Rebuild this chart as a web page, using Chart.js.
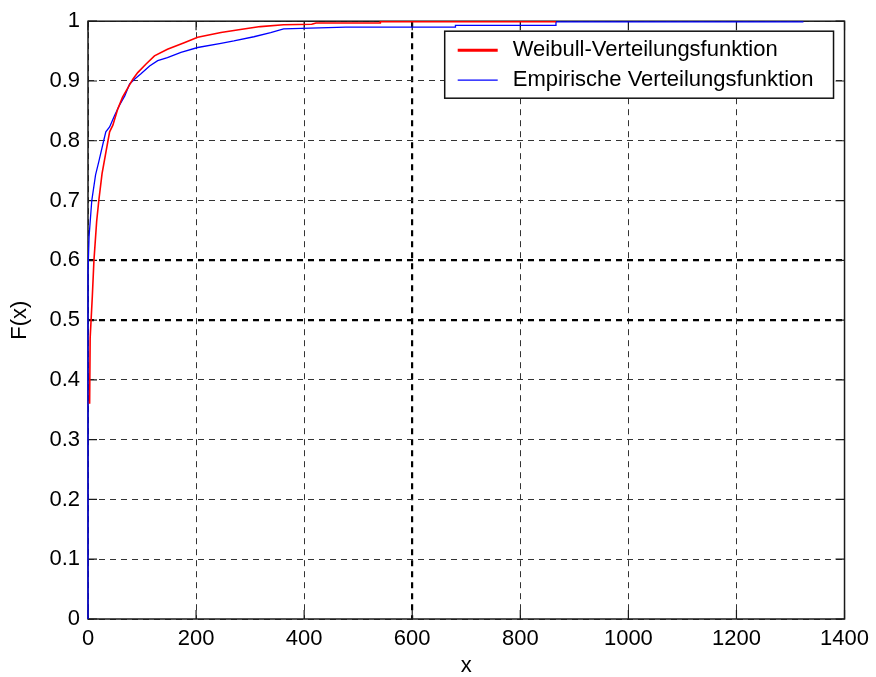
<!DOCTYPE html>
<html>
<head>
<meta charset="utf-8">
<script src="https://cdn.jsdelivr.net/npm/chart.js@4.4.1/dist/chart.umd.min.js"></script>
<style>
  html, body { margin: 0; padding: 0; background: #ffffff; }
  #wrap { width: 876px; height: 677px; }
</style>
</head>
<body>
<div id="wrap"><canvas id="grafico"></canvas></div>
<script>
// Weibull-Verteilungsfunktion
const weibullX = [3, 4, 8, 11, 16, 20, 26, 33, 40, 46, 55, 64, 74, 83, 92, 107, 123, 147, 178, 203, 246, 282, 319, 362, 414, 422, 541, 541, 866];
const weibullF = [0.36, 0.47, 0.54, 0.60, 0.665, 0.70, 0.745, 0.78, 0.815, 0.826, 0.853, 0.873, 0.889, 0.903, 0.914, 0.928, 0.942, 0.953, 0.964, 0.973, 0.981, 0.986, 0.991, 0.994, 0.995, 0.997, 0.997, 0.999, 0.999];

// Empirische Verteilungsfunktion
const empX = [0, 0, 2, 7, 14, 20, 29, 33, 40, 49, 58, 68, 77, 86, 98, 114, 129, 147, 172, 203, 246, 270, 307, 338, 362, 477, 680, 680, 866, 866, 1324];
const empF = [0, 0.58, 0.64, 0.70, 0.743, 0.765, 0.80, 0.815, 0.823, 0.842, 0.859, 0.875, 0.895, 0.903, 0.912, 0.925, 0.934, 0.939, 0.948, 0.956, 0.963, 0.967, 0.974, 0.981, 0.987, 0.99, 0.99, 0.993, 0.993, 0.999, 0.999];

const seriesLabels = ["Weibull-Verteilungsfunktion", "Empirische Verteilungsfunktion"];
const xTicks = [0, 200, 400, 600, 800, 1000, 1200, 1400];
const yTicks = [0, 0.1, 0.2, 0.3, 0.4, 0.5, 0.6, 0.7, 0.8, 0.9, 1];

const schrift = "'Liberation Sans', Arial, sans-serif";

function punkte(xs, ys) {
  return xs.map((x, i) => ({ x: x, y: ys[i] }));
}

// Rahmen mit nach innen zeigenden Ticks (wie MATLAB)
const rahmenPlugin = {
  id: "rahmen",
  beforeDatasetsDraw(chart) {
    const { ctx, chartArea: a, scales } = chart;
    const len = 9;
    ctx.save();
    ctx.strokeStyle = "#1a1a1a";
    ctx.lineWidth = 1.5;
    ctx.strokeRect(a.left, a.top, a.right - a.left, a.bottom - a.top);
    ctx.lineWidth = 1.2;
    ctx.beginPath();
    xTicks.forEach((v) => {
      const px = scales.x.getPixelForValue(v);
      ctx.moveTo(px, a.bottom);
      ctx.lineTo(px, a.bottom - len);
      ctx.moveTo(px, a.top);
      ctx.lineTo(px, a.top + len);
    });
    yTicks.forEach((v) => {
      const py = scales.y.getPixelForValue(v);
      ctx.moveTo(a.left, py);
      ctx.lineTo(a.left + len, py);
      ctx.moveTo(a.right, py);
      ctx.lineTo(a.right - len, py);
    });
    ctx.stroke();
    ctx.restore();
  },
  afterDraw(chart) {
    const { ctx, chartArea: a } = chart;
    const breiten = [3, 1.3];
    ctx.save();
    ctx.font = "22px " + schrift;
    const textW = Math.max(...seriesLabels.map((t) => ctx.measureText(t).width));
    const boxW = 88 + textW;
    const boxH = 67;
    const bx = a.right - 11 - boxW;
    const by = a.top + 10;
    ctx.fillStyle = "#ffffff";
    ctx.fillRect(bx, by, boxW, boxH);
    ctx.strokeStyle = "#111";
    ctx.lineWidth = 1.5;
    ctx.strokeRect(bx, by, boxW, boxH);
    chart.data.datasets.forEach((ds, i) => {
      const cy = by + 19 + i * 30;
      ctx.strokeStyle = ds.borderColor;
      ctx.lineWidth = breiten[i];
      ctx.beginPath();
      ctx.moveTo(bx + 13, cy);
      ctx.lineTo(bx + 53, cy);
      ctx.stroke();
      ctx.fillStyle = "#000";
      ctx.textBaseline = "middle";
      ctx.textAlign = "left";
      ctx.fillText(ds.label, bx + 68, cy);
    });
    ctx.restore();
  },
};

function istDick(v, liste) {
  return liste.some((d) => Math.abs(v - d) < 1e-6);
}

const ctx = document.getElementById("grafico").getContext("2d");
const chart = new Chart(ctx, {
  type: "line",
  data: {
    datasets: [
      {
        label: seriesLabels[0],
        data: punkte(weibullX, weibullF),
        borderColor: "#ff0000",
        borderWidth: 1.6,
        tension: 0,
        pointRadius: 0,
        fill: false,
        clip: 4,
      },
      {
        label: seriesLabels[1],
        data: punkte(empX, empF),
        borderColor: "#0000ff",
        borderWidth: 1.3,
        tension: 0,
        pointRadius: 0,
        fill: false,
        clip: 4,
      },
    ],
  },
  options: {
    responsive: true,
    maintainAspectRatio: false,
    animation: false,
    devicePixelRatio: 1,
    layout: { padding: { top: 19, right: 28, bottom: 0, left: 0 } },
    plugins: {
      legend: { display: false },
      tooltip: { enabled: false },
    },
    scales: {
      x: {
        type: "linear",
        min: 0,
        max: 1400,
        afterBuildTicks: (s) => {
          s.ticks = xTicks.map((v) => ({ value: v }));
        },
        afterFit: (s) => {
          s.height = 58;
        },
        ticks: {
          color: "#000",
          font: { family: schrift, size: 22 },
          padding: 7,
          maxRotation: 0,
          autoSkip: false,
          callback: (v) => String(v),
        },
        grid: {
          drawTicks: false,
          color: (c) => (c.tick && istDick(c.tick.value, [600]) ? "#000" : "#333"),
          lineWidth: (c) => (c.tick && istDick(c.tick.value, [600]) ? 2.2 : 1),
        },
        border: { display: false, dash: [6, 5] },
        title: {
          display: true,
          text: "x",
          color: "#000",
          font: { family: schrift, size: 22, lineHeight: 1 },
          padding: { top: 0, bottom: 0 },
        },
      },
      y: {
        type: "linear",
        min: 0,
        max: 1,
        afterBuildTicks: (s) => {
          s.ticks = yTicks.map((v) => ({ value: v }));
        },
        afterFit: (s) => {
          s.width = 88;
        },
        ticks: {
          color: "#000",
          font: { family: schrift, size: 22 },
          padding: 8,
          autoSkip: false,
          callback: (v) => String(Math.round(v * 10) / 10),
        },
        grid: {
          drawTicks: false,
          color: (c) => (c.tick && istDick(c.tick.value, [0.5, 0.6]) ? "#000" : "#333"),
          lineWidth: (c) => (c.tick && istDick(c.tick.value, [0.5, 0.6]) ? 2.2 : 1),
        },
        border: { display: false, dash: [6, 5] },
        title: {
          display: true,
          text: "F(x)",
          color: "#000",
          font: { family: schrift, size: 22, lineHeight: 1 },
          padding: { top: 9, bottom: 0 },
        },
      },
    },
  },
  plugins: [rahmenPlugin],
});
</script>
</body>
</html>
